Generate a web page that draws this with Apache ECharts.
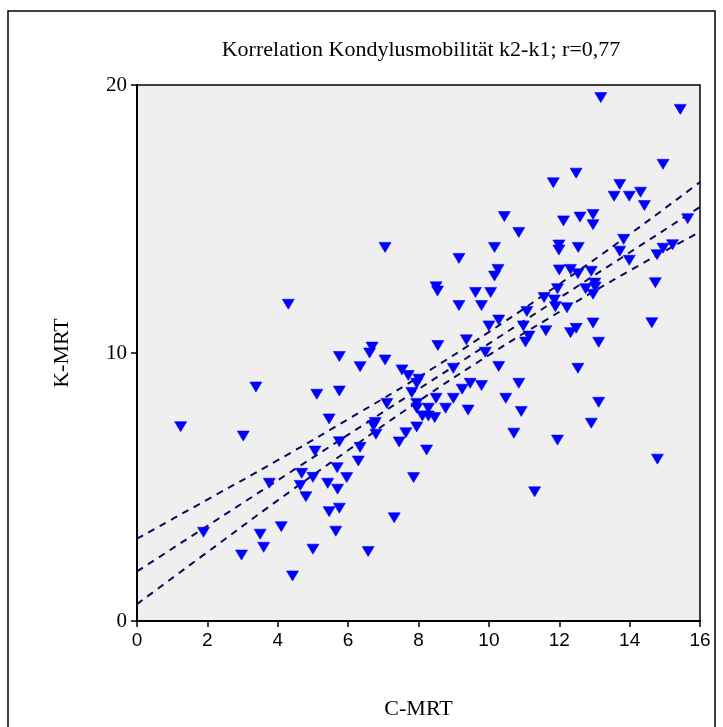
<!DOCTYPE html>
<html>
<head>
<meta charset="utf-8">
<script src="https://cdn.jsdelivr.net/npm/echarts@6/dist/echarts.min.js"></script>
<style>
html,body{margin:0;padding:0;background:#fff;}
#c{width:723px;height:727px;}
</style>
</head>
<body>
<div id="c"></div>
<script>
// Scatter data: C-MRT (x) and K-MRT (y)
const cMRT = [4.30,3.38,5.11,1.24,3.02,5.46,5.06,4.68,5.00,3.76,4.64,5.42,4.80,5.46,4.10,1.89,3.50,3.60,5.00,2.97,4.42,
10.44,10.85,7.05,10.16,9.15,10.26,10.16,8.50,8.54,9.62,10.05,9.15,9.79,10.28,10.00,9.36,8.55,6.68,6.61,5.75,7.05,9.90,6.34,10.28,7.53,7.71,8.01,7.95,8.99,5.75,9.47,9.79,10.85,9.24,7.81,7.10,7.95,8.50,8.99,10.48,7.95,8.28,8.77,9.41,8.11,8.28,8.46,6.77,6.72,6.79,7.95,7.64,7.45,5.75,6.34,10.71,10.92,8.23,6.29,5.69,5.96,5.70,7.86,5.75,7.31,5.65,6.57,
13.18,15.44,14.95,12.48,11.83,13.72,13.56,13.99,14.31,14.42,12.12,12.59,12.96,12.96,15.65,13.83,11.99,11.99,12.54,13.72,15.22,14.95,14.78,13.99,12.00,12.32,12.53,12.91,11.95,12.75,13.01,13.02,12.96,14.73,11.57,11.86,11.89,12.22,11.08,10.98,12.96,14.63,11.62,12.48,12.32,11.14,11.04,13.12,12.53,13.12,12.91,11.95,14.79,11.30];
const kMRT = [11.82,8.73,8.46,7.25,6.90,7.54,6.34,5.51,5.36,5.14,5.06,5.14,4.64,4.08,3.52,3.31,3.24,2.75,2.68,2.46,1.68,
15.09,14.50,13.94,13.94,13.53,13.12,12.87,12.47,12.31,12.26,12.26,11.77,11.77,11.23,11.01,10.49,10.28,10.22,10.00,9.87,9.74,10.03,9.49,9.50,9.37,9.16,9.02,8.87,9.43,8.58,8.87,8.79,8.87,8.65,8.53,8.12,8.12,8.31,8.31,8.31,7.94,7.94,7.94,7.87,7.65,7.65,7.59,7.41,7.29,6.97,7.24,7.02,6.68,6.69,6.48,7.01,7.82,6.38,5.97,5.72,5.35,4.92,5.35,4.21,3.85,3.35,2.59,
19.53,19.09,17.04,16.71,16.35,16.29,15.85,15.85,16.00,15.50,14.93,15.07,15.17,14.79,15.01,14.24,14.03,13.84,13.94,13.80,14.04,13.91,13.67,13.46,13.10,13.12,12.96,13.05,12.40,12.40,12.61,12.46,12.19,12.62,12.07,11.98,11.73,11.69,11.55,11.01,11.12,11.13,10.83,10.92,10.76,10.63,10.41,10.40,9.43,8.16,7.38,6.75,6.04,4.82];

// Regression line and 95% confidence band
const fitX = [0, 16];
const fitY = [1.85, 15.45];
const bandX = [0, 2, 4, 6, 8, 10, 12, 14, 16];
const bandUpper = [3.07, 4.53, 6.00, 7.53, 9.10, 10.78, 12.57, 14.43, 16.38];
const bandLower = [0.63, 2.57, 4.50, 6.37, 8.20, 9.92, 11.53, 13.07, 14.52];

const xTicks = ['0','2','4','6','8','10','12','14','16'];
const yTicks = ['0','10','20'];

const titleText = 'Korrelation Kondylusmobilität k2-k1; r=0,77';
const xName = 'C-MRT';
const yName = 'K-MRT';

const pts = cMRT.map((x, i) => [x, kMRT[i]]);
const fit = fitX.map((x, i) => [x, fitY[i]]);
const up = bandX.map((x, i) => [x, bandUpper[i]]);
const lo = bandX.map((x, i) => [x, bandLower[i]]);

const dashStyle = {color: '#0a0a5c', width: 2, type: [7, 6]};

const chart = echarts.init(document.getElementById('c'));
chart.setOption({
  animation: false,
  backgroundColor: '#ffffff',
  title: {
    text: titleText, left: 416, top: 34, textAlign: 'center',
    textStyle: {fontFamily: 'Liberation Serif', fontSize: 22, fontWeight: 'normal', color: '#000'}
  },
  graphic: [{
    type: 'rect', shape: {x: 8, y: 11, width: 707, height: 740},
    style: {fill: 'none', stroke: '#000', lineWidth: 1.5}, silent: true, z: 0
  }],
  grid: {
    left: 137, top: 85, right: 23, bottom: 106, show: true,
    backgroundColor: '#efefef', borderColor: '#000', borderWidth: 1.5
  },
  xAxis: {
    type: 'value', min: 0, max: 16, interval: 2,
    name: xName, nameLocation: 'middle', nameGap: 77,
    nameTextStyle: {fontFamily: 'Liberation Serif', fontSize: 22, color: '#000'},
    axisLine: {show: true, onZero: false, lineStyle: {color: '#000', width: 2}},
    axisTick: {show: true, length: 6, lineStyle: {color: '#000', width: 1.5}},
    axisLabel: {fontFamily: 'Liberation Sans', fontSize: 19, color: '#000', margin: 10,
      formatter: v => xTicks[Math.round(v / 2)]},
    splitLine: {show: false}
  },
  yAxis: {
    type: 'value', min: 0, max: 20, interval: 10,
    name: yName, nameLocation: 'middle', nameGap: 64, nameRotate: 90,
    nameTextStyle: {fontFamily: 'Liberation Serif', fontSize: 22, color: '#000'},
    axisLine: {show: true, onZero: false, lineStyle: {color: '#000', width: 2}},
    axisTick: {show: true, length: 6, lineStyle: {color: '#000', width: 1.5}},
    axisLabel: {fontFamily: 'Liberation Serif', fontSize: 21, color: '#000', margin: 10,
      formatter: v => yTicks[Math.round(v / 10)]},
    splitLine: {show: false}
  },
  series: [
    {type: 'line', data: up, smooth: true, symbol: 'none', lineStyle: dashStyle, z: 2, silent: true},
    {type: 'line', data: fit, symbol: 'none', lineStyle: dashStyle, z: 2, silent: true},
    {type: 'line', data: lo, smooth: true, symbol: 'none', lineStyle: dashStyle, z: 2, silent: true},
    {type: 'scatter', data: pts, symbol: 'path://M0,0 L12,0 L6,10 Z', symbolSize: [12, 10],
      itemStyle: {color: '#0000ff', borderColor: '#0000ff', borderWidth: 0.6, opacity: 1}, z: 3}
  ]
});
</script>
</body>
</html>
